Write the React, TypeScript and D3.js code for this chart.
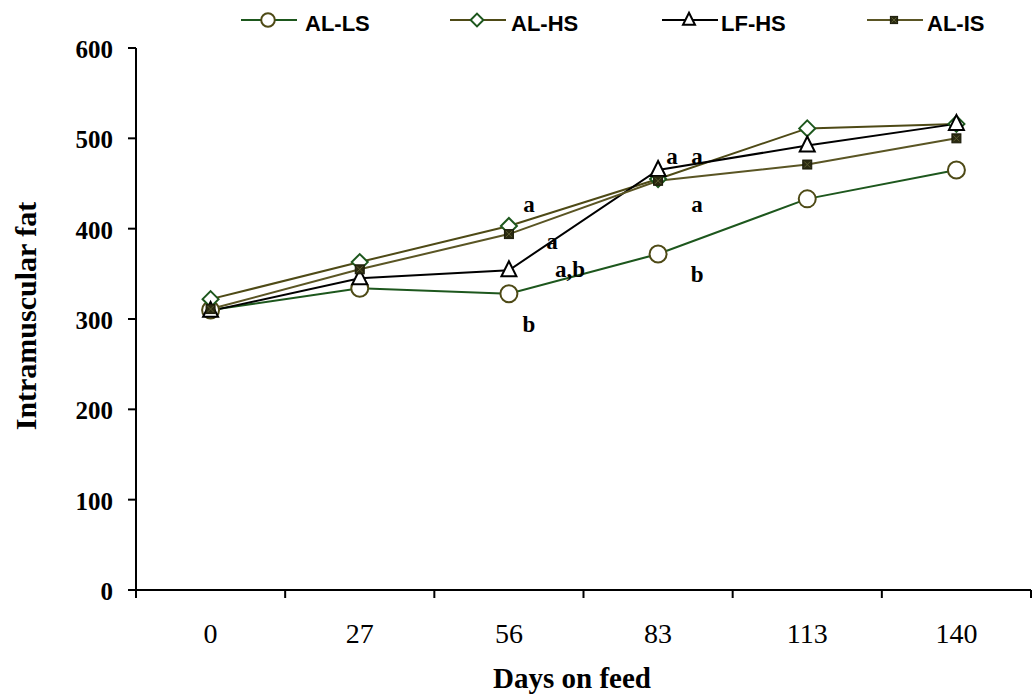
import React from "react";
import * as d3 from "d3";

const days = ["0", "27", "56", "83", "113", "140"];
const yTicks = [0, 100, 200, 300, 400, 500, 600];

const alLS = [310, 334, 328, 372, 433, 465];
const alHS = [322, 363, 403, 455, 511, 516];
const lfHS = [309, 345, 354, 465, 492, 516];
const alIS = [311, 355, 394, 453, 471, 500];

const seriesNames = ["AL-LS", "AL-HS", "LF-HS", "AL-IS"];

const annDays = ["56", "56", "56", "56", "83", "83", "83", "83"];
const annValues = [426, 385, 354, 293, 479, 479, 426, 349];
const annTexts = ["a", "a", "a,b", "b", "a", "a", "a", "b"];
const annDx = [20, 43, 61, 20, 14, 39, 39, 39];

const W = 1033;
const H = 696;
const left = 136;
const right = 1031;
const top = 48;
const bottom = 590;

const serif = "'Liberation Serif', 'Times New Roman', serif";
const sans = "'Liberation Sans', Arial, sans-serif";

const GREEN = "#1d571d";
const OLIVE = "#4e4a16";

type Series = {
  name: string;
  values: number[];
  line: string;
  marker: "circle" | "diamond" | "triangle" | "square";
  mstroke: string;
};

const series: Series[] = [
  { name: seriesNames[0], values: alLS, line: GREEN, marker: "circle", mstroke: OLIVE },
  { name: seriesNames[1], values: alHS, line: OLIVE, marker: "diamond", mstroke: GREEN },
  { name: seriesNames[2], values: lfHS, line: "#000", marker: "triangle", mstroke: "#000" },
  { name: seriesNames[3], values: alIS, line: "#5a5524", marker: "square", mstroke: "#2a2a10" },
];

function Marker({ kind, x, y, stroke, s = 1 }: { kind: string; x: number; y: number; stroke: string; s?: number }) {
  if (kind === "circle")
    return <circle cx={x} cy={y} r={8.5 * s} fill="#fff" stroke={stroke} strokeWidth={2} />;
  if (kind === "diamond")
    return (
      <path
        d={`M${x},${y - 8 * s} L${x + 8 * s},${y} L${x},${y + 8 * s} L${x - 8 * s},${y} Z`}
        fill="#fff"
        stroke={stroke}
        strokeWidth={2}
      />
    );
  if (kind === "triangle")
    return (
      <path
        d={`M${x},${y - 9 * s} L${x + 7.5 * s},${y + 6 * s} L${x - 7.5 * s},${y + 6 * s} Z`}
        fill="#fff"
        stroke={stroke}
        strokeWidth={2}
      />
    );
  return (
    <g>
      <rect x={x - 4.5 * s} y={y - 4.5 * s} width={9 * s} height={9 * s} fill="#2a2a10" stroke="#1a1a08" strokeWidth={1} />
      <path
        d={`M${x - 3 * s},${y - 3 * s} L${x + 3 * s},${y + 3 * s} M${x + 3 * s},${y - 3 * s} L${x - 3 * s},${y + 3 * s}`}
        stroke="#5a5a30"
        strokeWidth={1}
      />
    </g>
  );
}

export default function App() {
  const x = d3.scaleBand<string>().domain(days).range([left, right]);
  const y = d3.scaleLinear().domain([0, 600]).range([bottom, top]);
  const cx = (d: string) => (x(d) as number) + x.bandwidth() / 2;
  const line = d3
    .line<number>()
    .x((_, i) => cx(days[i]))
    .y((v) => y(v));

  const tickXs = days.map((d) => x(d) as number).concat([right]);

  const legendLineX = [241, 450, 662, 867];
  const legendTextX = [305, 511, 721, 927];

  return (
    <svg width={W} height={H} style={{ position: "absolute", left: 0, top: 0, background: "#fff" }}>
      {/* axes */}
      <line x1={left} y1={top} x2={left} y2={bottom} stroke="#000" strokeWidth={2} />
      <line x1={left} y1={bottom} x2={right} y2={bottom} stroke="#000" strokeWidth={2} />
      {yTicks.map((t) => (
        <g key={t}>
          <line x1={left - 8} x2={left} y1={y(t)} y2={y(t)} stroke="#000" strokeWidth={2} />
          <text
            x={113}
            y={y(t) + 10}
            textAnchor="end"
            fontFamily={serif}
            fontWeight="bold"
            fontSize={25}
          >
            {t}
          </text>
        </g>
      ))}
      {tickXs.map((tx, i) => (
        <line key={i} x1={tx} x2={tx} y1={bottom} y2={bottom + 8} stroke="#000" strokeWidth={2} />
      ))}
      {days.map((d) => (
        <text key={d} x={cx(d)} y={643} textAnchor="middle" fontFamily={serif} fontSize={28}>
          {d}
        </text>
      ))}
      <text x={572} y={688} textAnchor="middle" fontFamily={serif} fontWeight="bold" fontSize={29}>
        Days on feed
      </text>
      <text
        transform={`translate(36,316) rotate(-90)`}
        textAnchor="middle"
        fontFamily={serif}
        fontWeight="bold"
        fontSize={30}
      >
        Intramuscular fat
      </text>

      {/* lines */}
      {series.map((s) => (
        <path key={s.name} d={line(s.values) as string} fill="none" stroke={s.line} strokeWidth={2} />
      ))}
      {series.map((s) => (
        <g key={s.name + "m"}>
          {s.values.map((v, i) => (
            <Marker key={i} kind={s.marker} x={cx(days[i])} y={y(v)} stroke={s.mstroke} />
          ))}
        </g>
      ))}

      {/* annotations */}
      {annTexts.map((t, i) => (
        <text
          key={i}
          x={cx(annDays[i]) + annDx[i]}
          y={y(annValues[i]) + 7}
          textAnchor="middle"
          fontFamily={serif}
          fontWeight="bold"
          fontSize={23}
        >
          {t}
        </text>
      ))}

      {/* legend */}
      {series.map((s, i) => {
        const lx = legendLineX[i];
        return (
          <g key={s.name + "l"}>
            <line x1={lx} x2={lx + 56} y1={20} y2={20} stroke={s.line} strokeWidth={2} />
            <Marker kind={s.marker} x={lx + 27} y={20} stroke={s.mstroke} s={0.8} />
            <text x={legendTextX[i]} y={31} fontFamily={sans} fontWeight="bold" fontSize={22}>
              {s.name}
            </text>
          </g>
        );
      })}
    </svg>
  );
}
